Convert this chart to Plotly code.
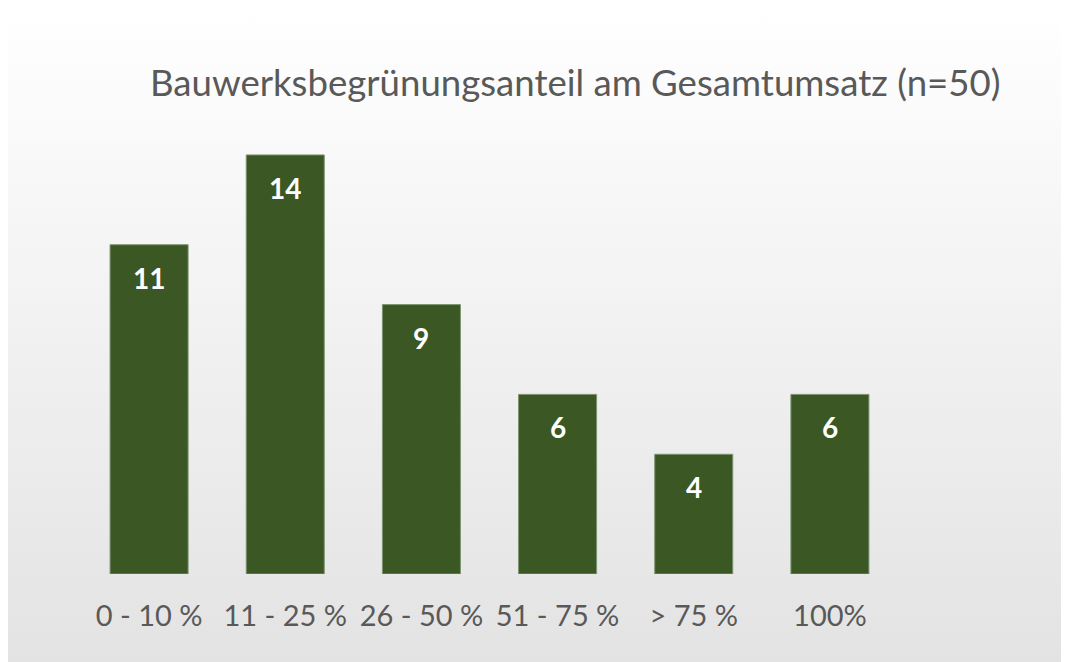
import plotly.graph_objects as go
import base64

categories = ["0 - 10 %", "11 - 25 %", "26 - 50 %", "51 - 75 %", "> 75 %", "100%"]
values = [11, 14, 9, 6, 4, 6]
title_text = "Bauwerksbegrünungsanteil am Gesamtumsatz (n=50)"

bar_color = "#3A5724"
text_gray = "#595959"
font_family = "Lato, Open Sans, sans-serif"

W, H = 1061, 654
ML, MR, MT, MB = 73, 171, 117, 88
PW, PH = W - ML - MR, H - MT - MB

svg = (
    '<svg xmlns="http://www.w3.org/2000/svg" width="100" height="100" preserveAspectRatio="none">'
    '<defs><linearGradient id="g" x1="0" y1="0" x2="0" y2="1">'
    '<stop offset="0" stop-color="#ffffff"/><stop offset="1" stop-color="#e3e3e3"/>'
    '</linearGradient></defs><rect width="100" height="100" fill="url(#g)"/></svg>'
)
svg_uri = "data:image/svg+xml;base64," + base64.b64encode(svg.encode()).decode()

fig = go.Figure()
fig.add_trace(go.Bar(
    x=categories, y=values,
    marker=dict(color=bar_color, line=dict(color="#7d9470", width=1)),
    hoverinfo="skip",
))

for c, v in zip(categories, values):
    fig.add_annotation(x=c, y=v, text=str(v), showarrow=False, yshift=-33,
                       font=dict(family=font_family, size=28, color="white", weight="bold"),
                       xref="x", yref="y")

fig.add_annotation(text=title_text, xref="paper", yref="paper",
                   x=(567 - ML) / PW, y=1 + (MT - 74) / PH,
                   xanchor="center", yanchor="middle", showarrow=False,
                   font=dict(family=font_family, size=36.6, color=text_gray))

fig.update_layout(
    width=W, height=H,
    margin=dict(l=ML, r=MR, t=MT, b=MB),
    paper_bgcolor="rgba(0,0,0,0)",
    plot_bgcolor="rgba(0,0,0,0)",
    bargap=0.427,
    showlegend=False,
    images=[dict(source=svg_uri, xref="paper", yref="paper", x=-ML / PW,
                 y=1 + MT / PH, sizex=W / PW, sizey=H / PH,
                 xanchor="left", yanchor="top", sizing="stretch", layer="below")],
    xaxis=dict(showgrid=False, showline=False, zeroline=False, ticks="outside", ticklen=0,
               ticklabelstandoff=16,
               tickfont=dict(family=font_family, size=29, color=text_gray)),
    yaxis=dict(range=[0, 15], visible=False, showgrid=False, zeroline=False),
)

fig.write_html("out.html")
